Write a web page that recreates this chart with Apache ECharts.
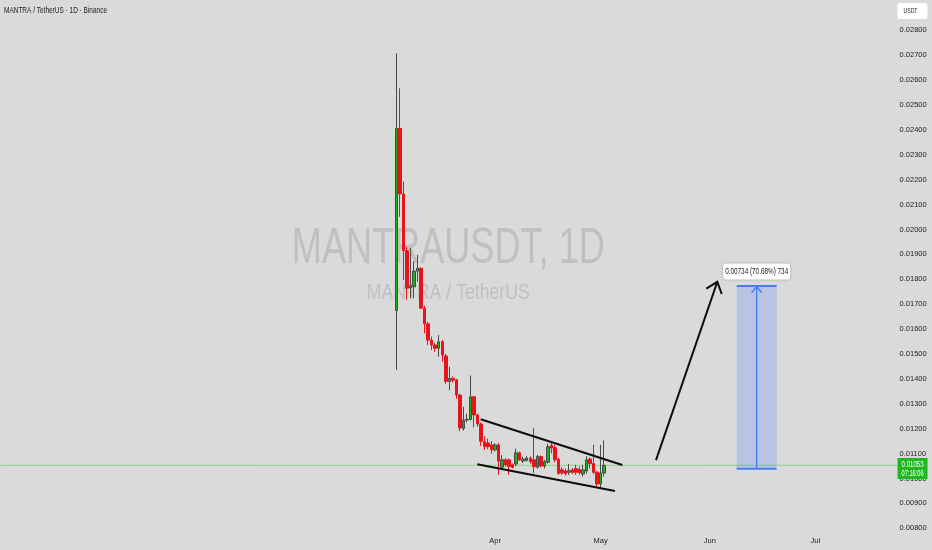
<!DOCTYPE html>
<html><head><meta charset="utf-8">
<script src="https://cdn.jsdelivr.net/npm/echarts@6/dist/echarts.min.js"></script>
<style>html,body{margin:0;padding:0;background:#dadada}#chart{width:932px;height:550px}</style>
</head><body><div id="chart"></div>
<script>
const FONT = '"Liberation Sans", Arial, sans-serif';

// ---- axis definition ----
const axisStart = '2024-11-12';
const axisDays = 253;
const monthTicks = ['2025-04-01', '2025-05-01', '2025-06-01', '2025-07-01'];
const monthLabels = ['Apr', 'May', 'Jun', 'Jul'];
const priceMin = 0.008;
const priceMax = 0.028;
const priceStep = 0.001;

// ---- daily candles (MANTRA / TetherUS, 1D) ----
const firstCandle = '2025-03-04';
const opens = [0.01674,0.02406,0.02143,0.01915,0.01766,0.01770,0.01833,0.01844,0.01684,0.01621,
  0.01556,0.01536,0.01523,0.01549,0.01492,0.01390,0.01402,0.01396,0.01335,0.01201,
  0.01235,0.01237,0.01328,0.01255,0.01219,0.01148,0.01143,0.01135,0.01115,0.01135,
  0.01045,0.01075,0.01075,0.01055,0.01058,0.01103,0.01070,0.01073,0.01082,0.01075,
  0.01045,0.01088,0.01050,0.01065,0.01133,0.01124,0.01077,0.01035,0.01030,0.01025,
  0.01035,0.01040,0.01036,0.01018,0.01030,0.01078,0.01060,0.01025,0.00978,0.01022];
const closes = [0.02406,0.02143,0.01915,0.01764,0.01774,0.01833,0.01844,0.01684,0.01621,0.01556,
  0.01536,0.01523,0.01549,0.01496,0.01390,0.01402,0.01395,0.01335,0.01203,0.01235,
  0.01238,0.01328,0.01255,0.01219,0.01150,0.01128,0.01128,0.01115,0.01135,0.01070,
  0.01075,0.01055,0.01048,0.01045,0.01103,0.01075,0.01078,0.01082,0.01068,0.01047,
  0.01088,0.01050,0.01068,0.01128,0.01122,0.01075,0.01021,0.01022,0.01020,0.01032,
  0.01024,0.01025,0.01023,0.01035,0.01075,0.01060,0.01025,0.00978,0.01022,0.01053];
const lows = [0.01436,0.02051,0.01797,0.01717,0.01725,0.01724,0.01790,0.01680,0.01583,0.01536,
  0.01516,0.01509,0.01489,0.01469,0.01380,0.01355,0.01385,0.01320,0.01190,0.01192,
  0.01225,0.01233,0.01205,0.01208,0.01131,0.01115,0.01118,0.01100,0.01108,0.01015,
  0.01035,0.01048,0.01015,0.01040,0.01050,0.01070,0.01062,0.01068,0.01060,0.01022,
  0.01040,0.01045,0.01040,0.01060,0.01101,0.01065,0.01015,0.01015,0.01012,0.01014,
  0.01018,0.01015,0.01015,0.01008,0.01020,0.01040,0.01018,0.00965,0.00960,0.01008];
const highs = [0.02708,0.02567,0.02192,0.01931,0.01926,0.01871,0.01898,0.01848,0.01694,0.01630,
  0.01570,0.01545,0.01576,0.01556,0.01500,0.01449,0.01410,0.01400,0.01340,0.01288,
  0.01260,0.01414,0.01332,0.01260,0.01225,0.01170,0.01160,0.01150,0.01142,0.01142,
  0.01094,0.01082,0.01080,0.01060,0.01120,0.01108,0.01088,0.01090,0.01088,0.01203,
  0.01095,0.01092,0.01075,0.01140,0.01148,0.01135,0.01085,0.01045,0.01040,0.01058,
  0.01042,0.01055,0.01048,0.01055,0.01090,0.01085,0.01135,0.01030,0.01135,0.01153];
const countdown = '07:16:06';

// ---- drawings: [days from first candle, price] ----
const upperTrend = [[23.92, 0.01238], [64.15, 0.01054]];
const lowerTrend = [[22.95, 0.01057], [62.07, 0.00950]];
const targetArrow = [[73.72, 0.01074], [91.14, 0.01790]];
const projectionDays = [96.65, 108.0];
const projectionPrices = [0.01039, 0.01773];
const projectionLabel = '0.00734 (70.68%) 734';

const titleText = 'MANTRA / TetherUS · 1D · Binance';
const watermarkMain = 'MANTRAUSDT, 1D';
const watermarkSub = 'MANTRA / TetherUS';
const currencyText = 'USDT';

// ---- build ----
const dayMs = 86400000;
const startMs = Date.parse(axisStart + 'T00:00:00Z');
const categories = Array.from({length: axisDays}, (_, i) => new Date(startMs + i * dayMs).toISOString().slice(0, 10));
const candleOffset = Math.round((Date.parse(firstCandle + 'T00:00:00Z') - startMs) / dayMs);
const candleData = opens.map((o, i) => [categories[candleOffset + i], o, closes[i], lows[i], highs[i]]);
const lastClose = closes[closes.length - 1];

const measureCtx = document.createElement('canvas').getContext('2d');
function textWidth(t, size) { measureCtx.font = size + 'px ' + FONT; return measureCtx.measureText(t).width; }
function fit(t, size, w) { return w / textWidth(t, size); }

function arrowHead(tail, tip, len, ang) {
  const a = Math.atan2(tail[1] - tip[1], tail[0] - tip[0]);
  return [[tip[0] + len * Math.cos(a + ang), tip[1] + len * Math.sin(a + ang)], tip,
          [tip[0] + len * Math.cos(a - ang), tip[1] + len * Math.sin(a - ang)]];
}

const chart = echarts.init(document.getElementById('chart'), null, {renderer: 'canvas'});

const bigSize = 50.3, subSize = 22, smallSize = 8;
const option = {
  backgroundColor: '#dadada',
  animation: false,
  grid: {left: 0.5, right: 40.94, top: 30.3, bottom: 21.7, containLabel: false, outerBoundsMode: 'none'},
  xAxis: [{
    type: 'category', data: categories, boundaryGap: true,
    axisLine: {show: false}, axisTick: {show: false}, splitLine: {show: false},
    axisLabel: {
      interval: (i, v) => monthTicks.indexOf(v) >= 0,
      formatter: v => { const k = monthTicks.indexOf(v); return k >= 0 ? monthLabels[k] : ''; },
      color: '#222', fontSize: 7.5, fontFamily: FONT, margin: 8.5
    }
  }, {
    type: 'value', min: -0.5, max: axisDays - 0.5, show: false
  }],
  yAxis: {
    type: 'value', position: 'right', min: priceMin, max: priceMax, interval: priceStep,
    axisLine: {show: false}, axisTick: {show: false}, splitLine: {show: false},
    axisLabel: {formatter: v => v.toFixed(5), color: '#222', fontSize: 7.5, fontFamily: FONT, margin: 8.5,
      showMinLabel: true, showMaxLabel: true}
  },
  graphic: [
    {type: 'text', x: 4, y: 10.5, z: 10, scaleX: fit(titleText, smallSize + 0.5, 103),
      style: {text: titleText, fill: '#1a1a1a', fontSize: smallSize + 0.5, fontFamily: FONT, align: 'left', verticalAlign: 'middle'}},
    {type: 'text', x: 448.3, y: 248.7, z: 0, scaleX: fit(watermarkMain, bigSize, 313),
      style: {text: watermarkMain, fill: '#c0c0c0', fontSize: bigSize, fontFamily: FONT, align: 'center', verticalAlign: 'middle'}},
    {type: 'text', x: 448.3, y: 292.9, z: 0, scaleX: fit(watermarkSub, subSize, 163),
      style: {text: watermarkSub, fill: '#c0c0c0', fontSize: subSize, fontFamily: FONT, align: 'center', verticalAlign: 'middle'}},
    {type: 'rect', shape: {x: 897.5, y: 3, width: 30, height: 16, r: 2}, z: 10, style: {fill: '#ffffff'}},
    {type: 'text', x: 910.5, y: 11, z: 11, scaleX: fit(currencyText, 8, 14),
      style: {text: currencyText, fill: '#222', fontSize: 8, fontFamily: FONT, align: 'center', verticalAlign: 'middle'}}
  ],
  series: [{
    type: 'custom',
    xAxisIndex: 1, yAxisIndex: 0,
    data: [[0, lastClose]],
    clip: false, silent: true, z: 1,
    renderItem: function (params, api) {
      const cs = params.coordSys;
      const y = api.coord([0, lastClose])[1];
      return {type: 'line', shape: {x1: cs.x, y1: y, x2: cs.x + cs.width + 6, y2: y}, style: {stroke: '#8fd48f', lineWidth: 1}};
    }
  }, {
    type: 'candlestick',
    xAxisIndex: 0, yAxisIndex: 0,
    data: candleData,
    encode: {x: 0, y: [1, 2, 3, 4]},
    barWidth: 3,
    z: 3,
    itemStyle: {color: '#1fb01f', color0: '#e8141c', borderColor: '#4a4a4a', borderColor0: '#e8141c', borderWidth: 1}
  }, {
    type: 'custom',
    xAxisIndex: 1, yAxisIndex: 0,
    data: [[0, lastClose]],
    clip: false, silent: true, z: 5,
    renderItem: function (params, api) {
      const P = p => api.coord([p[0] + candleOffset, p[1]]);
      const u0 = P(upperTrend[0]), u1 = P(upperTrend[1]);
      const l0 = P(lowerTrend[0]), l1 = P(lowerTrend[1]);
      const a0 = P(targetArrow[0]), a1 = P(targetArrow[1]);
      const bl = P([projectionDays[0], projectionPrices[0]]);
      const tr = P([projectionDays[1], projectionPrices[1]]);
      const mx = (bl[0] + tr[0]) / 2;
      const blue = '#4b7df2';
      return {type: 'group', children: [
        {type: 'line', shape: {x1: u0[0], y1: u0[1], x2: u1[0], y2: u1[1]}, style: {stroke: '#0d0d0d', lineWidth: 2}},
        {type: 'line', shape: {x1: l0[0], y1: l0[1], x2: l1[0], y2: l1[1]}, style: {stroke: '#0d0d0d', lineWidth: 2}},
        {type: 'line', shape: {x1: a0[0], y1: a0[1], x2: a1[0], y2: a1[1]}, style: {stroke: '#0d0d0d', lineWidth: 2}},
        {type: 'polyline', shape: {points: arrowHead(a0, a1, 13, 0.68)}, style: {stroke: '#0d0d0d', fill: null, lineWidth: 2}},
        {type: 'rect', shape: {x: bl[0], y: tr[1], width: tr[0] - bl[0], height: bl[1] - tr[1]}, style: {fill: 'rgba(41,98,255,0.18)'}},
        {type: 'line', shape: {x1: bl[0], y1: tr[1], x2: tr[0], y2: tr[1]}, style: {stroke: blue, lineWidth: 2}},
        {type: 'line', shape: {x1: bl[0], y1: bl[1], x2: tr[0], y2: bl[1]}, style: {stroke: blue, lineWidth: 2}},
        {type: 'line', shape: {x1: mx, y1: bl[1], x2: mx, y2: tr[1]}, style: {stroke: blue, lineWidth: 1.5}},
        {type: 'polyline', shape: {points: arrowHead([mx, bl[1]], [mx, tr[1] + 0.5], 8, 0.68)}, style: {stroke: blue, fill: null, lineWidth: 1.5}},
        {type: 'rect', shape: {x: mx - 33.5, y: tr[1] - 22.4, width: 67, height: 16, r: 3},
          style: {fill: '#ffffff', shadowBlur: 3, shadowColor: 'rgba(0,0,0,0.25)'}},
        {type: 'text', x: mx, y: tr[1] - 14.4, scaleX: fit(projectionLabel, smallSize + 0.5, 63),
          style: {text: projectionLabel, fill: '#222', fontSize: smallSize + 0.5, fontFamily: FONT, align: 'center', verticalAlign: 'middle'}}
      ]};
    }
  }, {
    type: 'custom',
    xAxisIndex: 1, yAxisIndex: 0,
    data: [[0, lastClose]],
    clip: false, silent: true, zlevel: 1, z: 20,
    renderItem: function (params, api) {
      const cs = params.coordSys;
      const y = api.coord([0, lastClose])[1];
      const lx = cs.x + cs.width + 6.5;
      const t1 = lastClose.toFixed(5);
      return {type: 'group', children: [
        {type: 'rect', shape: {x: lx, y: y - 7.3, width: 30, height: 21}, style: {fill: '#1fb81f'}},
        {type: 'text', x: lx + 15, y: y - 0.8, scaleX: fit(t1, smallSize + 0.5, 22),
          style: {text: t1, fill: '#fff', fontSize: smallSize + 0.5, fontFamily: FONT, align: 'center', verticalAlign: 'middle'}},
        {type: 'text', x: lx + 15, y: y + 8.2, scaleX: fit(countdown, smallSize + 0.5, 22),
          style: {text: countdown, fill: '#fff', fontSize: smallSize + 0.5, fontFamily: FONT, align: 'center', verticalAlign: 'middle'}}
      ]};
    }
  }]
};
chart.setOption(option);
</script>
</body></html>
